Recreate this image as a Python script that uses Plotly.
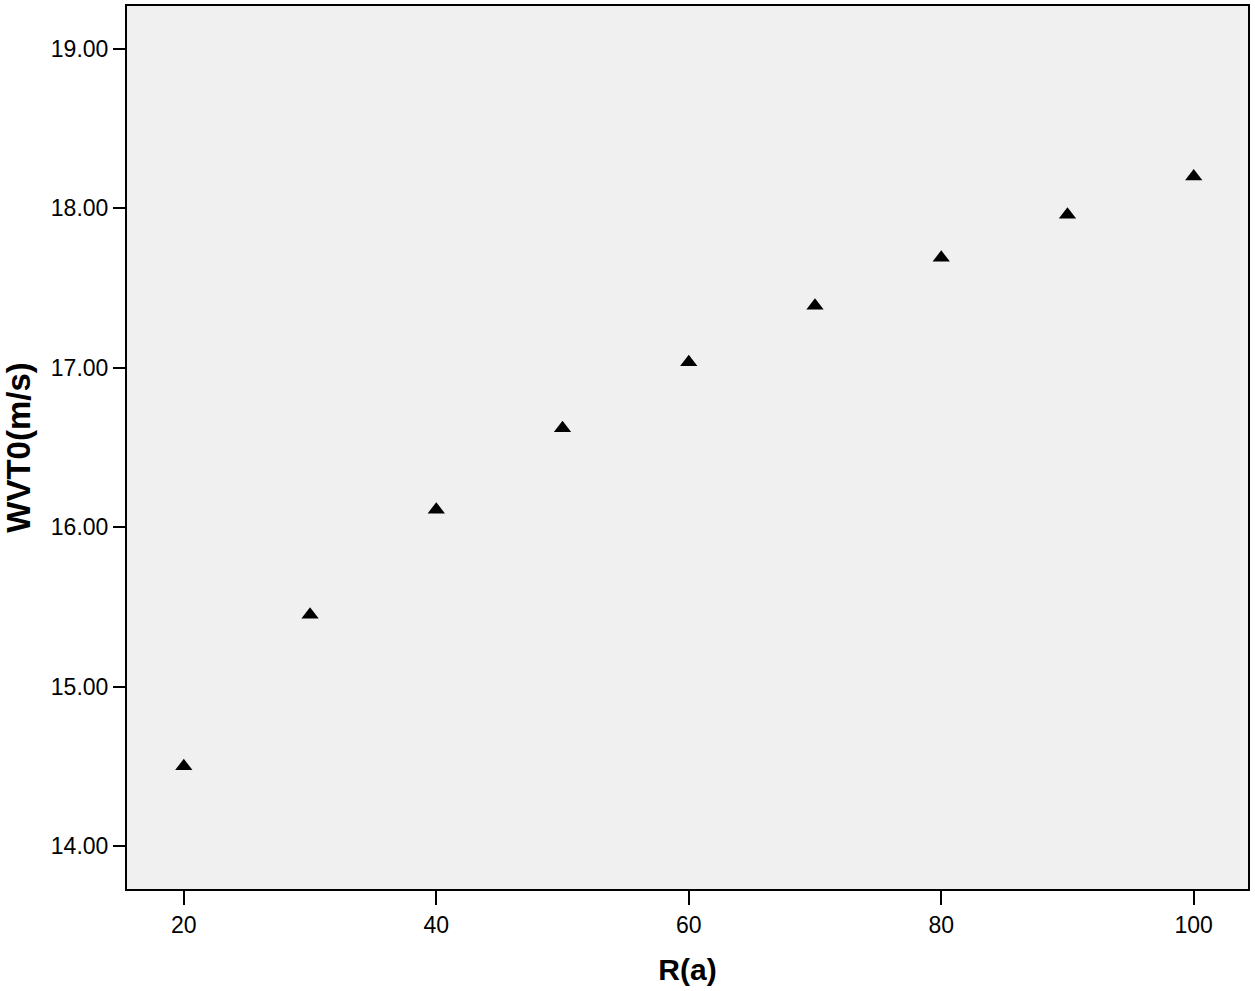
import plotly.graph_objects as go

r_values = [20, 30, 40, 50, 60, 70, 80, 90, 100]
wvt0_values = [14.50, 15.45, 16.11, 16.62, 17.035, 17.39, 17.69, 17.96, 18.20]
x_ticks = [20, 40, 60, 80, 100]
y_ticks = [14, 15, 16, 17, 18, 19]
y_tick_labels = ["14.00", "15.00", "16.00", "17.00", "18.00", "19.00"]

fig = go.Figure()
fig.add_trace(go.Scatter(
    x=r_values, y=wvt0_values, mode="markers",
    marker=dict(symbol="triangle-up", size=15, color="black"),
    showlegend=False,
))

font_family = "Liberation Sans, Arial, sans-serif"
fig.update_layout(
    width=1255, height=991,
    margin=dict(l=127, r=7, t=4, b=102),
    paper_bgcolor="white", plot_bgcolor="#f0f0f0",
    font=dict(family=font_family, color="black"),
)
fig.update_xaxes(
    range=[15.5, 104.3], tickvals=x_ticks, ticktext=[str(v) for v in x_ticks],
    showgrid=False, zeroline=False,
    showline=True, linecolor="black", linewidth=2, mirror=True,
    ticks="outside", ticklen=14, tickwidth=2, tickcolor="black",
    tickfont=dict(size=23),
    title=dict(text="<b>R(a)</b>", font=dict(size=30), standoff=22),
)
fig.update_yaxes(
    range=[13.73, 19.27], tickvals=y_ticks, ticktext=y_tick_labels,
    showgrid=False, zeroline=False,
    showline=True, linecolor="black", linewidth=2, mirror=True,
    ticks="outside", ticklen=12, tickwidth=2, tickcolor="black",
    tickfont=dict(size=23),
    title=dict(text="<b>WVT0(m/s)</b>", font=dict(size=33), standoff=12),
)

fig.write_html(
    "out.html",
    config={"displayModeBar": False},
    post_script="document.body.style.margin='0';document.body.style.overflow='hidden';",
)
